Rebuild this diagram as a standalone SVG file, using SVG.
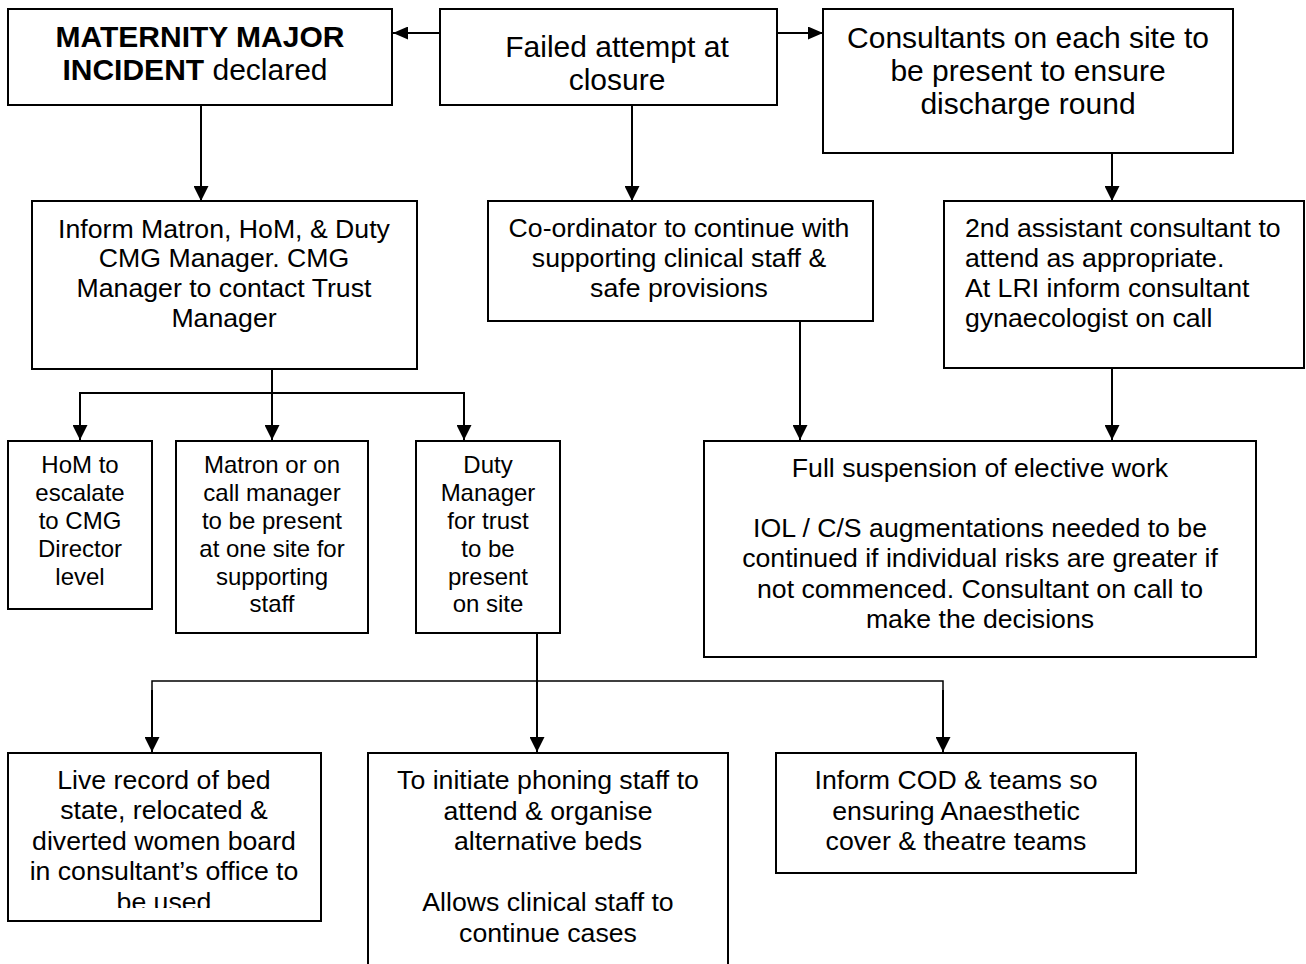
<svg xmlns="http://www.w3.org/2000/svg" width="1306" height="964" viewBox="0 0 1306 964">
<style>
.box{fill:#fff;stroke:#000;stroke-width:2}
.t{font-family:"Liberation Sans",Arial,sans-serif;fill:#000;text-anchor:middle}
.top{font-size:30px}
.mid{font-size:26.67px}
.sm{font-size:24px}
.left{text-anchor:start}
.c{fill:none;stroke:#000;stroke-width:2}
</style>
<defs>
<marker id="arr" markerUnits="userSpaceOnUse" viewBox="0 0 15 15" refX="15" refY="7.5" markerWidth="15" markerHeight="15" orient="auto">
<path d="M0,0 L15,7.5 L0,15 Z" fill="#000"/>
</marker>
<marker id="arrs" markerUnits="userSpaceOnUse" viewBox="0 0 15 13" refX="15" refY="6.5" markerWidth="15" markerHeight="13" orient="auto">
<path d="M0,0 L15,6.5 L0,13 Z" fill="#000"/>
</marker>
<clipPath id="clipLive"><rect x="6" y="752" width="318" height="156"/></clipPath>
</defs>
<rect width="1306" height="964" fill="#fff"/>

<g id="connectors">
<line class="c" x1="440" y1="33" x2="393" y2="33" marker-end="url(#arrs)"/>
<line class="c" x1="777" y1="33" x2="823" y2="33" marker-end="url(#arrs)"/>
<line class="c" x1="201" y1="105" x2="201" y2="201" marker-end="url(#arr)"/>
<line class="c" x1="632" y1="105" x2="632" y2="201" marker-end="url(#arr)"/>
<line class="c" x1="1112" y1="153" x2="1112" y2="201" marker-end="url(#arr)"/>
<line class="c" x1="800" y1="321" x2="800" y2="440" marker-end="url(#arr)"/>
<line class="c" x1="1112" y1="368" x2="1112" y2="440" marker-end="url(#arr)"/>
<line class="c" x1="272" y1="369" x2="272" y2="393"/>
<polyline class="c" points="80,440 80,393 464,393 464,440" marker-end="url(#arr)"/>
<line class="c" x1="80" y1="393" x2="80" y2="440" marker-end="url(#arr)"/>
<line class="c" x1="272" y1="393" x2="272" y2="440" marker-end="url(#arr)"/>
<line class="c" x1="537" y1="633" x2="537" y2="752" marker-end="url(#arr)"/>
<polyline class="c" style="stroke-width:1.5" points="152,752 152,681 943,681 943,752"/>
<line class="c" x1="152" y1="690" x2="152" y2="752" marker-end="url(#arr)"/>
<line class="c" x1="943" y1="690" x2="943" y2="752" marker-end="url(#arr)"/>
</g>

<g id="n-maternity">
<rect class="box" x="8" y="9" width="384" height="96"/>
<text class="t top" x="200" y="47" font-weight="bold">MATERNITY MAJOR</text>
<text class="t top" x="195" y="80"><tspan font-weight="bold">INCIDENT</tspan> declared</text>
</g>

<g id="n-failed">
<rect class="box" x="440" y="9" width="337" height="96"/>
<text class="t top" x="617" y="57">Failed attempt at</text>
<text class="t top" x="617" y="90">closure</text>
</g>

<g id="n-consultants">
<rect class="box" x="823" y="9" width="410" height="144"/>
<text class="t top" x="1028" y="48">Consultants on each site to</text>
<text class="t top" x="1028" y="81">be present to ensure</text>
<text class="t top" x="1028" y="114">discharge round</text>
</g>

<g id="n-inform">
<rect class="box" x="32" y="201" width="385" height="168"/>
<text class="t mid" x="224" y="238">Inform Matron, HoM, &amp; Duty</text>
<text class="t mid" x="224" y="267">CMG Manager. CMG</text>
<text class="t mid" x="224" y="297">Manager to contact Trust</text>
<text class="t mid" x="224" y="327">Manager</text>
</g>

<g id="n-coordinator">
<rect class="box" x="488" y="201" width="385" height="120"/>
<text class="t mid" x="679" y="237">Co-ordinator to continue with</text>
<text class="t mid" x="679" y="267">supporting clinical staff &amp;</text>
<text class="t mid" x="679" y="297">safe provisions</text>
</g>

<g id="n-second">
<rect class="box" x="944" y="201" width="360" height="167"/>
<text class="t mid left" x="965" y="237">2nd assistant consultant to</text>
<text class="t mid left" x="965" y="267">attend as appropriate.</text>
<text class="t mid left" x="965" y="297">At LRI inform consultant</text>
<text class="t mid left" x="965" y="327">gynaecologist on call</text>
</g>

<g id="n-hom">
<rect class="box" x="8" y="441" width="144" height="168"/>
<text class="t sm" x="80" y="473">HoM to</text>
<text class="t sm" x="80" y="501">escalate</text>
<text class="t sm" x="80" y="529">to CMG</text>
<text class="t sm" x="80" y="557">Director</text>
<text class="t sm" x="80" y="585">level</text>
</g>

<g id="n-matron">
<rect class="box" x="176" y="441" width="192" height="192"/>
<text class="t sm" x="272" y="473">Matron or on</text>
<text class="t sm" x="272" y="501">call manager</text>
<text class="t sm" x="272" y="529">to be present</text>
<text class="t sm" x="272" y="557">at one site for</text>
<text class="t sm" x="272" y="585">supporting</text>
<text class="t sm" x="272" y="612">staff</text>
</g>

<g id="n-duty">
<rect class="box" x="416" y="441" width="144" height="192"/>
<text class="t sm" x="488" y="473">Duty</text>
<text class="t sm" x="488" y="501">Manager</text>
<text class="t sm" x="488" y="529">for trust</text>
<text class="t sm" x="488" y="557">to be</text>
<text class="t sm" x="488" y="585">present</text>
<text class="t sm" x="488" y="612">on site</text>
</g>

<g id="n-suspension">
<rect class="box" x="704" y="441" width="552" height="216"/>
<text class="t mid" x="980" y="477">Full suspension of elective work</text>
<text class="t mid" x="980" y="537">IOL / C/S augmentations needed to be</text>
<text class="t mid" x="980" y="567">continued if individual risks are greater if</text>
<text class="t mid" x="980" y="598">not commenced. Consultant on call to</text>
<text class="t mid" x="980" y="628">make the decisions</text>
</g>

<g id="n-live">
<rect class="box" x="8" y="753" width="313" height="168"/>
<g clip-path="url(#clipLive)">
<text class="t mid" x="164" y="789">Live record of bed</text>
<text class="t mid" x="164" y="819">state, relocated &amp;</text>
<text class="t mid" x="164" y="850">diverted women board</text>
<text class="t mid" x="164" y="880">in consultant’s office to</text>
<text class="t mid" x="164" y="911">be used</text>
</g>
</g>

<g id="n-phoning">
<rect class="box" x="368" y="753" width="360" height="240"/>
<text class="t mid" x="548" y="789">To initiate phoning staff to</text>
<text class="t mid" x="548" y="820">attend &amp; organise</text>
<text class="t mid" x="548" y="850">alternative beds</text>
<text class="t mid" x="548" y="911">Allows clinical staff to</text>
<text class="t mid" x="548" y="942">continue cases</text>
</g>

<g id="n-cod">
<rect class="box" x="776" y="753" width="360" height="120"/>
<text class="t mid" x="956" y="789">Inform COD &amp; teams so</text>
<text class="t mid" x="956" y="820">ensuring Anaesthetic</text>
<text class="t mid" x="956" y="850">cover &amp; theatre teams</text>
</g>
</svg>
